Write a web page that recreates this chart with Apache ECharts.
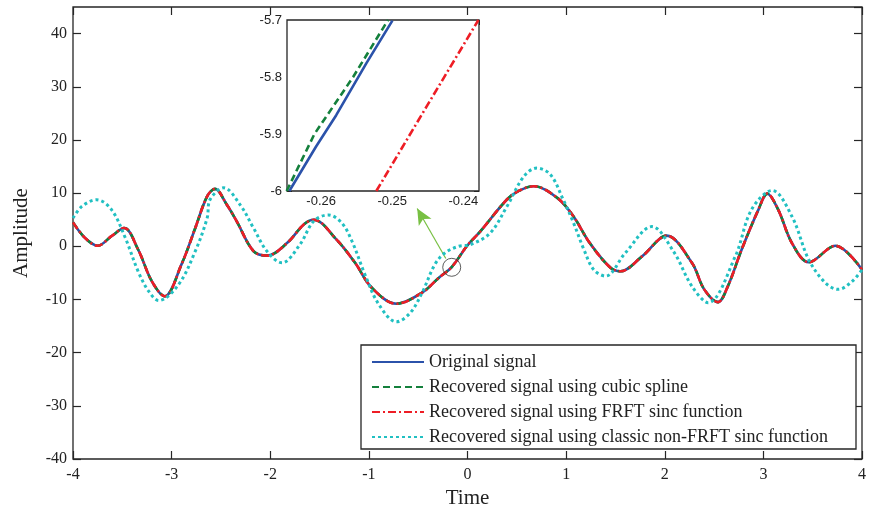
<!DOCTYPE html>
<html>
<head>
<meta charset="utf-8">
<script src="https://cdn.jsdelivr.net/npm/echarts@6/dist/echarts.min.js"></script>
<style>
html,body{margin:0;padding:0;background:#fff;}
#chart{width:869px;height:515px;}
</style>
</head>
<body>
<div id="chart"></div>
<script>
// ---- Main plot data ----
const timeMain = [-4.0, -3.88, -3.75, -3.61, -3.48, -3.34, -3.2, -3.07, -2.9, -2.76, -2.64, -2.56, -2.44, -2.34, -2.17, -2.03, -1.83, -1.66, -1.56, -1.33, -1.14, -0.97, -0.72, -0.46, -0.29, -0.16, 0.0, 0.13, 0.4, 0.53, 0.67, 0.91, 1.075, 1.24, 1.45, 1.55, 1.77, 2.02, 2.275, 2.40, 2.54, 2.64, 2.78, 2.95, 3.04, 3.15, 3.29, 3.46, 3.73, 4.0];
const originalSignal = [4.5, 1.6, 0.1, 1.9, 3.45, -0.6, -6.6, -9.4, -3.4, 3.45, 9.4, 10.8, 7.8, 4.7, -0.9, -1.75, 0.6, 4.1, 5.0, 1.3, -3.1, -7.8, -10.8, -8.7, -5.9, -3.9, 0.2, 2.8, 8.8, 10.5, 11.3, 9.1, 5.6, 0.6, -4.05, -4.7, -1.9, 2.0, -3.1, -8.1, -10.5, -7.5, -0.6, 6.9, 9.9, 6.9, 0.6, -3.0, 0.1, -4.4];
const cubicSpline = [4.5, 1.6, 0.1, 1.9, 3.45, -0.6, -6.6, -9.4, -3.4, 3.45, 9.4, 10.8, 7.8, 4.7, -0.9, -1.75, 0.6, 4.1, 5.0, 1.3, -3.1, -7.8, -10.8, -8.7, -5.9, -3.9, 0.2, 2.8, 8.8, 10.5, 11.3, 9.1, 5.6, 0.6, -4.05, -4.7, -1.9, 2.0, -3.1, -8.1, -10.5, -7.5, -0.6, 6.9, 9.9, 6.9, 0.6, -3.0, 0.1, -4.4];
const frftSinc = [4.5, 1.6, 0.1, 1.9, 3.45, -0.6, -6.6, -9.4, -3.4, 3.45, 9.4, 10.8, 7.8, 4.7, -0.9, -1.75, 0.6, 4.1, 5.0, 1.3, -3.1, -7.8, -10.8, -8.7, -5.9, -3.9, 0.2, 2.8, 8.8, 10.5, 11.3, 9.1, 5.6, 0.6, -4.05, -4.7, -1.9, 2.0, -3.1, -8.1, -10.5, -7.5, -0.6, 6.9, 9.9, 6.9, 0.6, -3.0, 0.1, -4.4];

const timeClassic = [-4.0, -3.91, -3.76, -3.61, -3.47, -3.34, -3.235, -3.13, -2.93, -2.76, -2.64, -2.61, -2.47, -2.305, -2.17, -2.035, -1.88, -1.70, -1.56, -1.41, -1.275, -1.17, -1.04, -0.90, -0.72, -0.58, -0.46, -0.33, -0.23, -0.09, 0.03, 0.23, 0.40, 0.57, 0.70, 0.84, 0.97, 1.075, 1.18, 1.28, 1.40, 1.60, 1.87, 2.09, 2.275, 2.44, 2.715, 2.88, 3.09, 3.29, 3.46, 3.63, 3.76, 3.9, 4.0];
const classicSinc = [5.3, 7.5, 8.75, 6.9, 1.6, -4.7, -8.4, -10.2, -7.2, -0.9, 5.3, 8.8, 11.0, 7.8, 3.45, -0.9, -3.1, 0.3, 4.7, 5.9, 4.4, 0.9, -5.3, -10.9, -14.2, -12.5, -8.7, -3.4, -1.25, 0.0, 0.3, 2.5, 7.5, 13.1, 14.7, 13.5, 8.8, 4.4, -0.6, -4.4, -5.6, -1.25, 3.7, -1.0, -7.5, -10.6, -1.9, 6.9, 10.5, 5.6, -2.5, -6.9, -8.1, -6.6, -4.4];

// ---- Inset (zoom) data ----
const insetOrigX = [-0.26447, -0.26071, -0.25788, -0.25365, -0.24998];
const insetOrigY = [-6, -5.922, -5.867, -5.776, -5.701];
const insetCubicX = [-0.26485, -0.26094, -0.2555, -0.25059];
const insetCubicY = [-6, -5.9, -5.8, -5.7];
const insetFrftX = [-0.25224, -0.24518, -0.23788];
const insetFrftY = [-6, -5.852, -5.7];

// ---- Annotation (circle and arrow, in data units) ----
const markerPoint = [-0.16, -3.95];
const arrowStart = [-0.22, -2.3];
const arrowEnd = [-0.51, 7.1];

// ---- Axis settings ----
const xTicks = {min: -4, max: 4, interval: 1};
const yTicks = {min: -40, max: 45, interval: 10};
const insetXRange = {min: -0.2648, max: -0.2378, step: 0.01};
const insetYRange = {min: -6, max: -5.7, interval: 0.1};

const legendNames = ['Original signal', 'Recovered signal using cubic spline', 'Recovered signal using FRFT sinc function', 'Recovered signal using classic non-FRFT sinc function'];

const zip = (xs, ys) => xs.map((x, i) => [x, ys[i]]);

const SERIF = '"Liberation Serif","Times New Roman",serif';
const SANS = '"Liberation Sans",Arial,sans-serif';
const AX = '#262626';

const mainAxisCommon = {
  type: 'value', gridIndex: 0,
  axisLine: {show: false, onZero: false},
  axisTick: {show: true, inside: true, length: 8, lineStyle: {color: AX, width: 1.2}},
  splitLine: {show: false},
  axisLabel: {fontFamily: SERIF, fontSize: 16, color: '#222'}
};
const insetAxisCommon = {
  type: 'value', gridIndex: 1,
  axisLine: {show: false, onZero: false},
  axisTick: {show: true, inside: true, length: 5, lineStyle: {color: AX, width: 1}},
  splitLine: {show: false},
  axisLabel: {fontFamily: SANS, fontSize: 13, color: '#222'}
};

const chart = echarts.init(document.getElementById('chart'), null, {renderer: 'canvas'});
const option = {
  backgroundColor: '#fff',
  animation: false,
  grid: [
    {left: 73, right: 5, top: 7, bottom: 56, show: true, borderColor: AX, borderWidth: 1.3, backgroundColor: 'rgba(0,0,0,0)'},
    {left: 287, top: 20, width: 192, height: 171, show: true, borderColor: AX, borderWidth: 1.3, backgroundColor: '#fff', z: 5}
  ],
  xAxis: [
    Object.assign({}, mainAxisCommon, {position: 'bottom', min: xTicks.min, max: xTicks.max, interval: xTicks.interval,
      name: 'Time', nameLocation: 'middle', nameGap: 27, nameTextStyle: {fontFamily: SERIF, fontSize: 21, color: '#222'},
      axisLabel: Object.assign({}, mainAxisCommon.axisLabel, {margin: 8})}),
    Object.assign({}, mainAxisCommon, {position: 'top', min: xTicks.min, max: xTicks.max, interval: xTicks.interval,
      axisLabel: {show: false}}),
    Object.assign({}, insetAxisCommon, {position: 'bottom', min: insetXRange.min, max: insetXRange.max,
      minInterval: insetXRange.step, maxInterval: insetXRange.step,
      axisLabel: Object.assign({}, insetAxisCommon.axisLabel, {margin: 4, showMinLabel: false, showMaxLabel: false})}),
    Object.assign({}, insetAxisCommon, {position: 'top', min: insetXRange.min, max: insetXRange.max,
      minInterval: insetXRange.step, maxInterval: insetXRange.step, axisLabel: {show: false}})
  ],
  yAxis: [
    Object.assign({}, mainAxisCommon, {position: 'left', min: yTicks.min, max: yTicks.max, interval: yTicks.interval,
      name: 'Amplitude', nameLocation: 'middle', nameGap: 41, nameRotate: 90,
      nameTextStyle: {fontFamily: SERIF, fontSize: 21, color: '#222'},
      axisLabel: Object.assign({}, mainAxisCommon.axisLabel, {margin: 6, showMaxLabel: false})}),
    Object.assign({}, mainAxisCommon, {position: 'right', min: yTicks.min, max: yTicks.max, interval: yTicks.interval,
      axisLabel: {show: false}}),
    Object.assign({}, insetAxisCommon, {position: 'left', min: insetYRange.min, max: insetYRange.max, interval: insetYRange.interval,
      axisLabel: Object.assign({}, insetAxisCommon.axisLabel, {margin: 5})}),
    Object.assign({}, insetAxisCommon, {position: 'right', min: insetYRange.min, max: insetYRange.max, interval: insetYRange.interval,
      axisLabel: {show: false}})
  ],
  legend: {
    data: legendNames,
    orient: 'vertical',
    left: 361, top: 345,
    itemWidth: 52, itemHeight: 14, itemGap: 7,
    padding: [8, 8, 3, 10],
    backgroundColor: '#fff', borderColor: AX, borderWidth: 1.3,
    itemStyle: {opacity: 0},
    textStyle: {fontFamily: SERIF, fontSize: 18, color: '#222', lineHeight: 17, width: 419},
    selectedMode: false
  },
  series: [
    {name: legendNames[0], type: 'line', xAxisIndex: 0, yAxisIndex: 0, data: zip(timeMain, originalSignal),
      smooth: 0.35, symbol: 'none', lineStyle: {color: '#2b52aa', width: 2.6}, itemStyle: {color: '#2b52aa'}, z: 2},
    {name: legendNames[1], type: 'line', xAxisIndex: 0, yAxisIndex: 0, data: zip(timeMain, cubicSpline),
      smooth: 0.35, symbol: 'none', lineStyle: {color: '#14803c', width: 2.6, type: [7, 4]}, itemStyle: {color: '#14803c'}, z: 3},
    {name: legendNames[2], type: 'line', xAxisIndex: 0, yAxisIndex: 0, data: zip(timeMain, frftSinc),
      smooth: 0.35, symbol: 'none', lineStyle: {color: '#ee1d25', width: 2.6, type: [8, 3, 2, 3]}, itemStyle: {color: '#ee1d25'}, z: 4},
    {name: legendNames[3], type: 'line', xAxisIndex: 0, yAxisIndex: 0, data: zip(timeClassic, classicSinc),
      smooth: 0.35, symbol: 'none', lineStyle: {color: '#21c0c2', width: 3, type: [3, 3]}, itemStyle: {color: '#21c0c2'}, z: 5},
    {name: 'marker', type: 'scatter', xAxisIndex: 0, yAxisIndex: 0, data: [markerPoint],
      symbol: 'circle', symbolSize: 18, itemStyle: {color: 'rgba(0,0,0,0)', borderColor: '#333', borderWidth: 1}, z: 6,
      markLine: {silent: true, animation: false, symbol: ['none', 'arrow'], symbolSize: [11, 16],
        label: {show: false}, lineStyle: {color: '#78c043', width: 1.2, type: 'solid'},
        data: [[{coord: arrowStart}, {coord: arrowEnd}]]}},
    {name: 'inset-original', type: 'line', xAxisIndex: 2, yAxisIndex: 2, data: zip(insetOrigX, insetOrigY),
      symbol: 'none', clip: true, lineStyle: {color: '#2b52aa', width: 2.6}, z: 10},
    {name: 'inset-cubic', type: 'line', xAxisIndex: 2, yAxisIndex: 2, data: zip(insetCubicX, insetCubicY),
      symbol: 'none', clip: true, lineStyle: {color: '#14803c', width: 2.6, type: [7, 4]}, z: 11},
    {name: 'inset-frft', type: 'line', xAxisIndex: 2, yAxisIndex: 2, data: zip(insetFrftX, insetFrftY),
      symbol: 'none', clip: true, lineStyle: {color: '#ee1d25', width: 2.6, type: [8, 3, 2, 3]}, z: 12}
  ]
};
chart.setOption(option);
</script>
</body>
</html>
